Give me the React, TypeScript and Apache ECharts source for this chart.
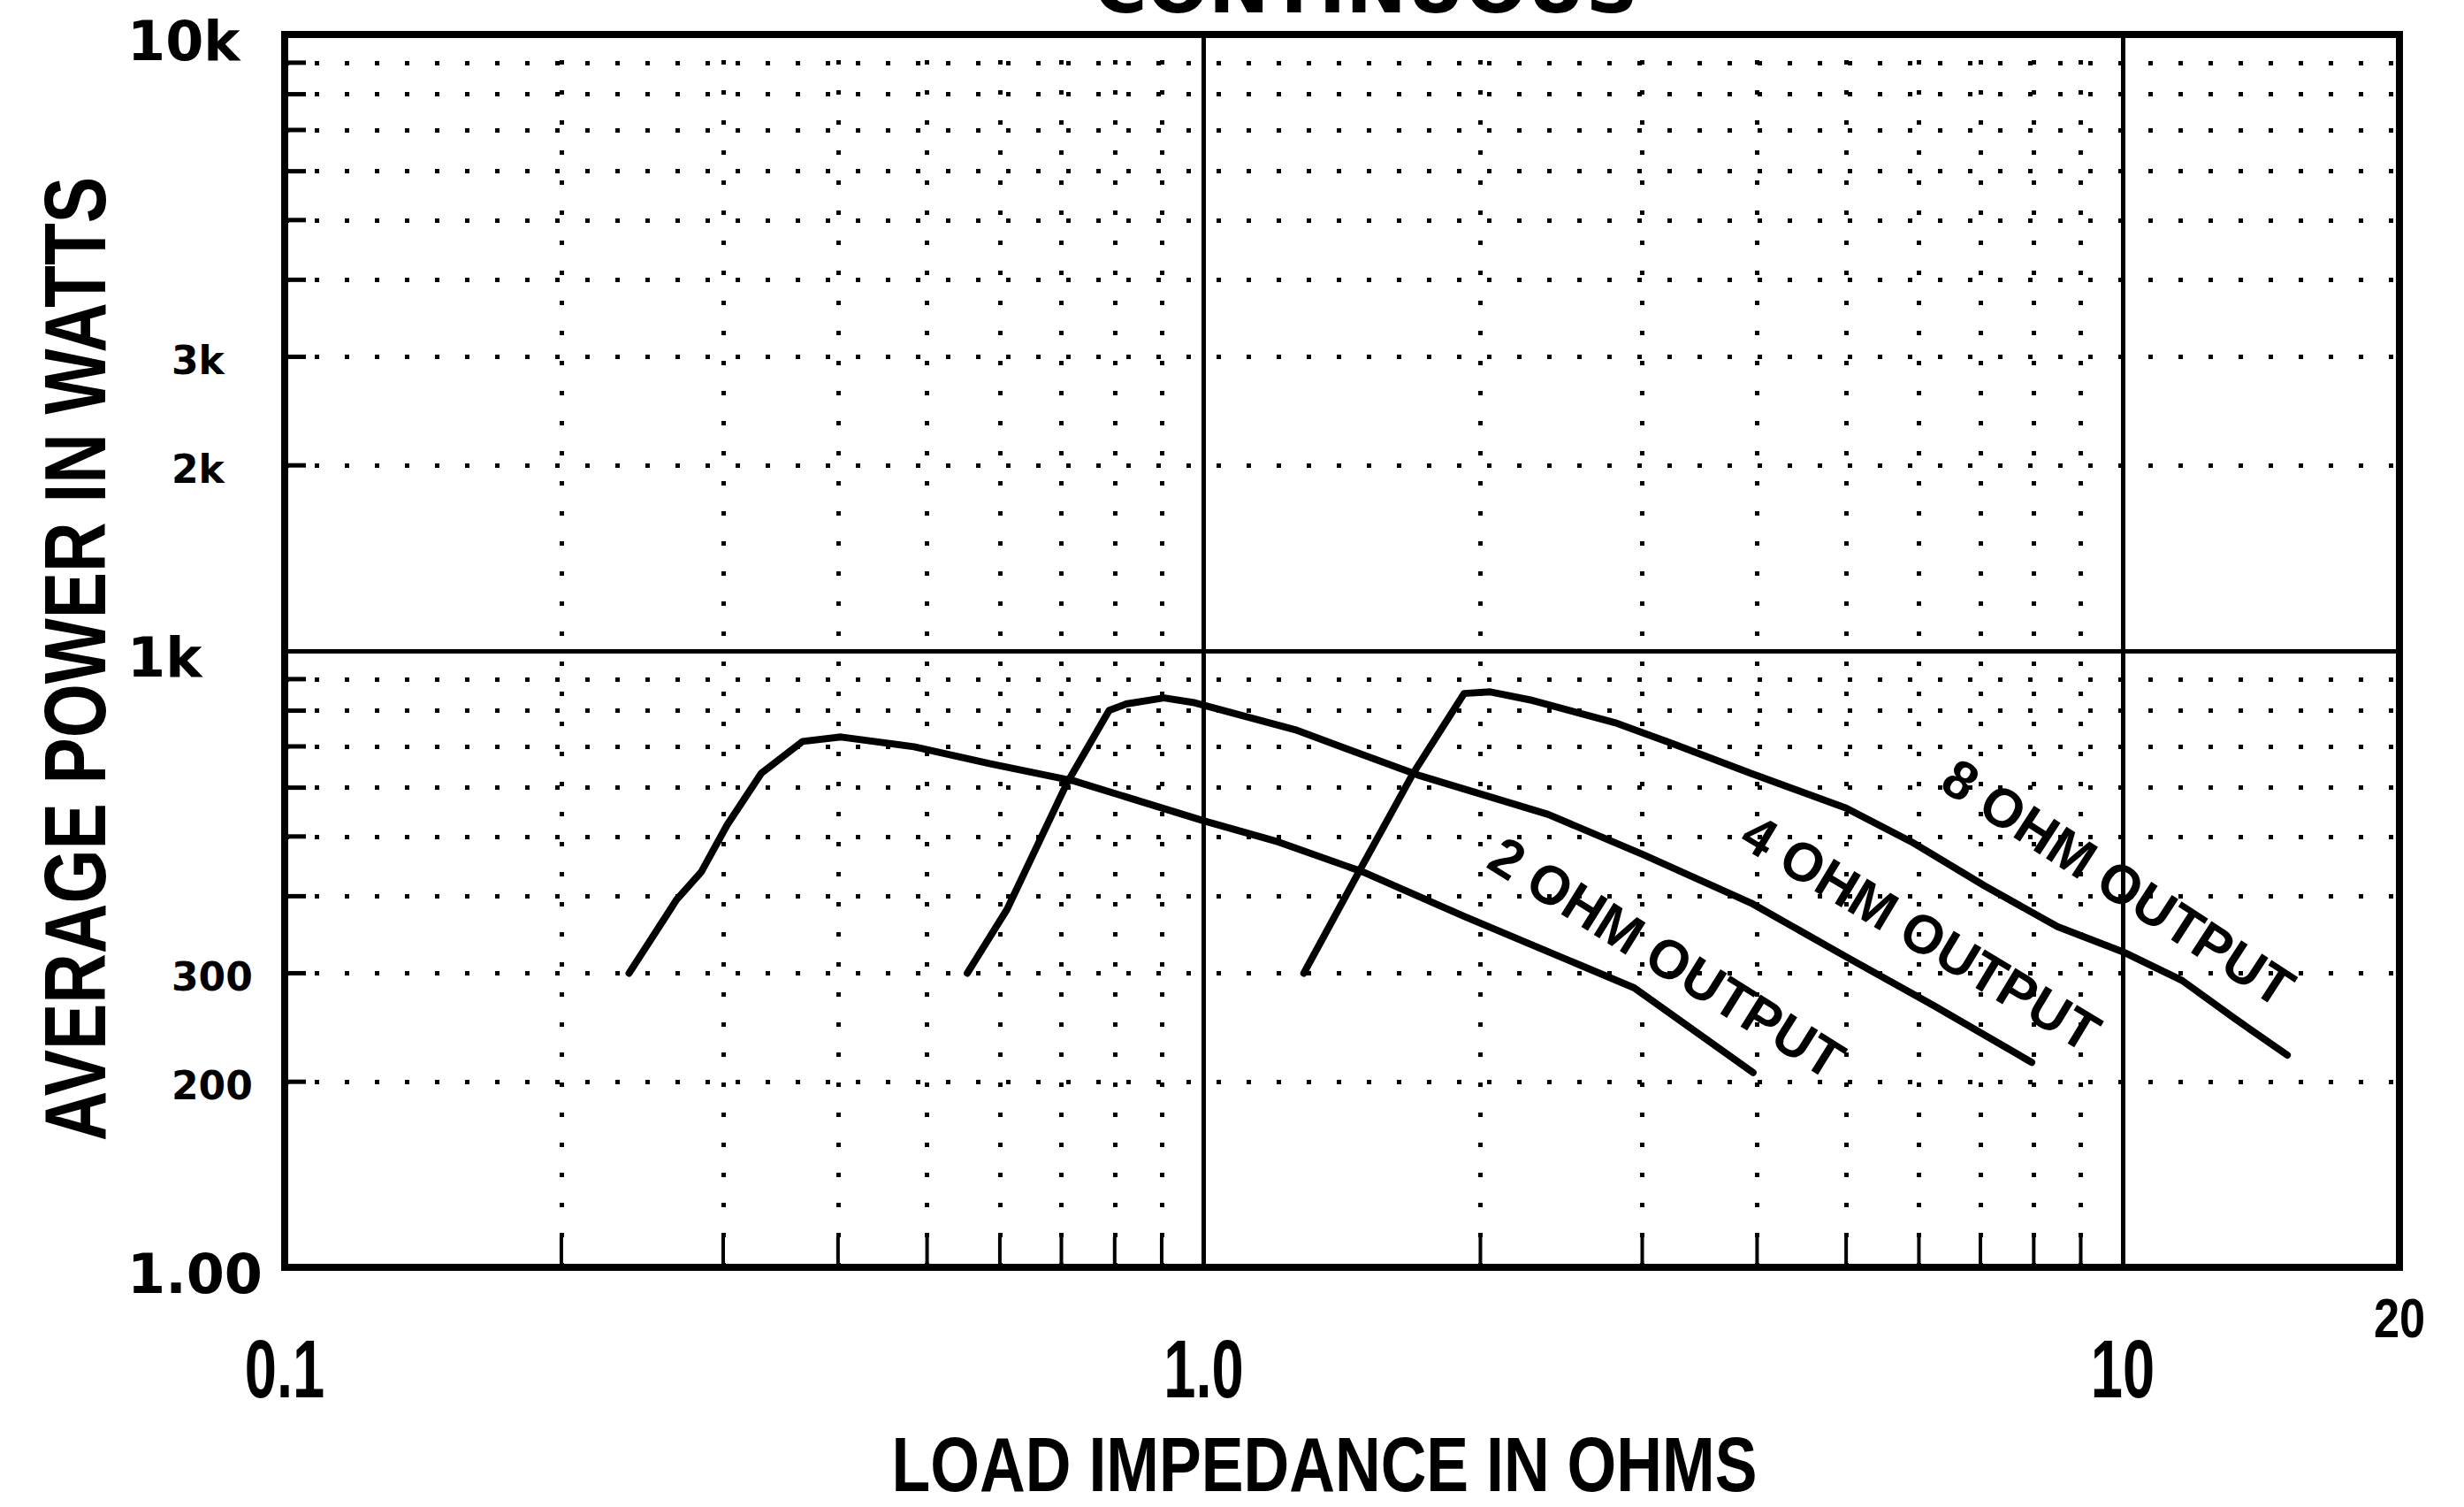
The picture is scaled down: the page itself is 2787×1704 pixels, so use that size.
import React, { useEffect, useRef } from "react";
import * as echarts from "echarts";

// ---- data (load impedance in ohms, average power in watts) ----
const ohm2: [number, number][] = [
  [0.237, 300], [0.267, 395], [0.284, 438], [0.303, 522], [0.33, 633], [0.366, 713],
  [0.403, 725], [0.484, 699], [0.586, 656], [0.723, 615], [1.0, 530], [1.205, 490],
  [1.49, 438], [1.92, 371], [2.94, 284], [3.96, 207],
];
const ohm4: [number, number][] = [
  [0.553, 300], [0.611, 381], [0.709, 608], [0.789, 801], [0.823, 820], [0.905, 839],
  [0.973, 825], [1.257, 745], [1.71, 629], [2.37, 543], [3.0, 468], [3.94, 390],
  [5.0, 319], [6.22, 266], [7.96, 215],
];
const ohm8: [number, number][] = [
  [1.285, 300], [1.475, 438], [1.69, 633], [1.92, 853], [2.05, 858], [2.28, 831],
  [2.8, 765], [3.23, 708], [3.94, 633], [5.0, 556], [5.89, 490], [7.07, 416],
  [8.49, 357], [10, 325], [11.6, 292], [13.2, 254], [15.1, 221],
];

const xMajorLines = [1, 10];
const yMajorLines = [1000];
const xMinorLines = [0.2, 0.3, 0.4, 0.5, 0.6, 0.7, 0.8, 0.9, 2, 3, 4, 5, 6, 7, 8, 9];
const yMinorLines = [200, 300, 400, 500, 600, 700, 800, 900, 2000, 3000, 4000, 5000, 6000, 7000, 8000, 9000];

const xLabelValues = [0.1, 1, 10, 20];
const xLabelTexts = ["0.1", "1.0", "10", "20"];
const yMajorLabelValues = [100, 1000, 10000];
const yMajorLabelTexts = ["1.00", "1k", "10k"];
const yMinorLabelValues = [200, 300, 2000, 3000];
const yMinorLabelTexts = ["200", "300", "2k", "3k"];

const curveLabelTexts = ["2 OHM OUTPUT", "4 OHM OUTPUT", "8 OHM OUTPUT"];
const curveLabelAnchors: [number, number][] = [[3.19, 318], [6.03, 349], [9.89, 421]];

const titleText = "CONTINUOUS";
const xAxisTitle = "LOAD IMPEDANCE IN OHMS";
const yAxisTitle = "AVERAGE POWER IN WATTS";

// ---- styles ----
const SANS = '"Liberation Sans", Arial, sans-serif';
const WIDE = '"DejaVu Sans", Verdana, sans-serif';
const curveAngles = [32, 31, 33];

const near = (a: number, b: number) => Math.abs(a - b) / Math.abs(b) < 1e-6;

export default function App() {
  const ref = useRef<HTMLDivElement>(null);
  useEffect(() => {
    document.body.style.margin = "0";
    document.body.style.overflow = "hidden";
    const chart = echarts.init(ref.current!, null, { renderer: "svg" });

    const dotted = { color: "#000", width: 5, type: [5, 29] as any, cap: "butt" };
    const solid = { color: "#000", width: 5, type: "solid" };
    const markData: any[] = [
      ...xMinorLines.map((v) => ({ xAxis: v, lineStyle: dotted })),
      ...yMinorLines.map((v) => ({ yAxis: v, lineStyle: dotted })),
      ...xMajorLines.map((v) => ({ xAxis: v, lineStyle: solid })),
      ...yMajorLines.map((v) => ({ yAxis: v, lineStyle: solid })),
    ];

    const curve = (name: string, data: [number, number][], extra: any = {}) => ({
      name,
      type: "line",
      data,
      showSymbol: false,
      symbol: "none",
      smooth: false,
      lineStyle: { color: "#000", width: 8, join: "round", cap: "round" },
      silent: true,
      ...extra,
    });

    const option: any = {
      animation: false,
      backgroundColor: "#fff",
      grid: {
        show: true,
        left: 322,
        right: 73,
        top: 39,
        bottom: 271,
        borderColor: "#000",
        borderWidth: 8,
        backgroundColor: "transparent",
      },
      xAxis: {
        type: "log",
        logBase: 10,
        min: 0.1,
        max: 20,
        axisLine: { show: false },
        axisTick: { show: false },
        splitLine: { show: false },
        minorTick: { show: false },
        axisLabel: { show: false },
      },
      yAxis: {
        type: "log",
        logBase: 10,
        min: 100,
        max: 10000,
        axisLine: { show: false },
        axisTick: { show: false },
        splitLine: { show: false },
        minorTick: { show: false },
        axisLabel: {
          show: true,
          showMinLabel: true,
          showMaxLabel: true,
          align: "left",
          margin: 178,
          formatter: (v: number) => {
            const i = yMajorLabelValues.findIndex((a) => near(v, a));
            return i < 0 ? "" : `{b|${yMajorLabelTexts[i]}}`;
          },
          rich: {
            b: { fontFamily: WIDE, fontWeight: "bold", fontSize: 62, color: "#000", padding: [14, 0, 0, 0] },
          },
        },
      },
      series: [
        curve("2 OHM OUTPUT", ohm2, {
          markLine: {
            silent: true,
            symbol: "none",
            label: { show: false },
            animation: false,
            data: markData,
          },
        }),
        curve("4 OHM OUTPUT", ohm4),
        curve("8 OHM OUTPUT", ohm8),
      ],
    };
    chart.setOption(option);

    const px = (x: number, y: number) => chart.convertToPixel({ gridIndex: 0 }, [x, y]) as number[];
    const graphics: any[] = [];
    const txt = (text: string, x: number, y: number, font: string, extra: any = {}) => ({
      type: "text",
      x,
      y,
      silent: true,
      ...extra,
      style: {
        text,
        font,
        fill: "#000",
        align: extra.align || "center",
        verticalAlign: "middle",
        textAlign: extra.align || "center",
        textVerticalAlign: "middle",
      },
    });

    // minor y labels (3k, 2k, 300, 200)
    yMinorLabelValues.forEach((v, i) => {
      const [gx, gy] = px(0.1, v);
      graphics.push(txt(yMinorLabelTexts[i], gx - 128, gy + 4, `bold 44px ${WIDE}`, { align: "left" }));
    });

    // x tick labels
    xLabelValues.forEach((v, i) => {
      const [gx, gy] = px(v, 100);
      const last = i === xLabelValues.length - 1;
      graphics.push(
        txt(xLabelTexts[i], gx, last ? gy + 57 : gy + 115, last ? `bold 63px ${SANS}` : `bold 93px ${SANS}`, {
          scaleX: last ? 0.83 : 0.7,
        })
      );
    });

    // axis titles (condensed via horizontal scaling)
    const [lx, by] = px(0.1, 100);
    const [rx, ty] = px(20, 10000);
    graphics.push(txt(xAxisTitle, (lx + rx) / 2 - 20, by + 222, `bold 88px ${SANS}`, { scaleX: 0.814 }));
    graphics.push(
      txt(yAxisTitle, lx - 237, (ty + by) / 2 + 9, `bold 98px ${SANS}`, {
        rotation: Math.PI / 2,
        scaleX: 0.8,
      })
    );

    // inner ticks on left and bottom edges
    yMinorLines.forEach((v) => {
      const [gx, gy] = px(0.1, v);
      graphics.push({
        type: "line",
        silent: true,
        shape: { x1: gx, y1: gy, x2: gx + 24, y2: gy },
        style: { stroke: "#000", lineWidth: 5 },
      });
    });
    xMinorLines.forEach((v) => {
      const [gx, gy] = px(v, 100);
      graphics.push({
        type: "line",
        silent: true,
        shape: { x1: gx, y1: gy, x2: gx, y2: gy - 34 },
        style: { stroke: "#000", lineWidth: 4 },
      });
    });

    // curve labels
    curveLabelTexts.forEach((t, i) => {
      const [gx, gy] = px(curveLabelAnchors[i][0], curveLabelAnchors[i][1]);
      graphics.push(
        txt(t, gx, gy, `bold 62px ${SANS}`, {
          rotation: (-curveAngles[i] * Math.PI) / 180,
          scaleX: 0.98,
        })
      );
    });

    // title (cut off at the top edge, as in the original)
    graphics.push({
      type: "text",
      x: 1545,
      y: 26,
      silent: true,
      style: {
        text: titleText,
        font: `bold 82px ${WIDE}`,
        fill: "#000",
        align: "center",
        verticalAlign: "bottom",
        textAlign: "center",
        textVerticalAlign: "bottom",
      },
    });

    chart.setOption({ graphic: { elements: graphics } });
    return () => chart.dispose();
  }, []);

  return <div ref={ref} style={{ width: 2787, height: 1704 }} />;
}
